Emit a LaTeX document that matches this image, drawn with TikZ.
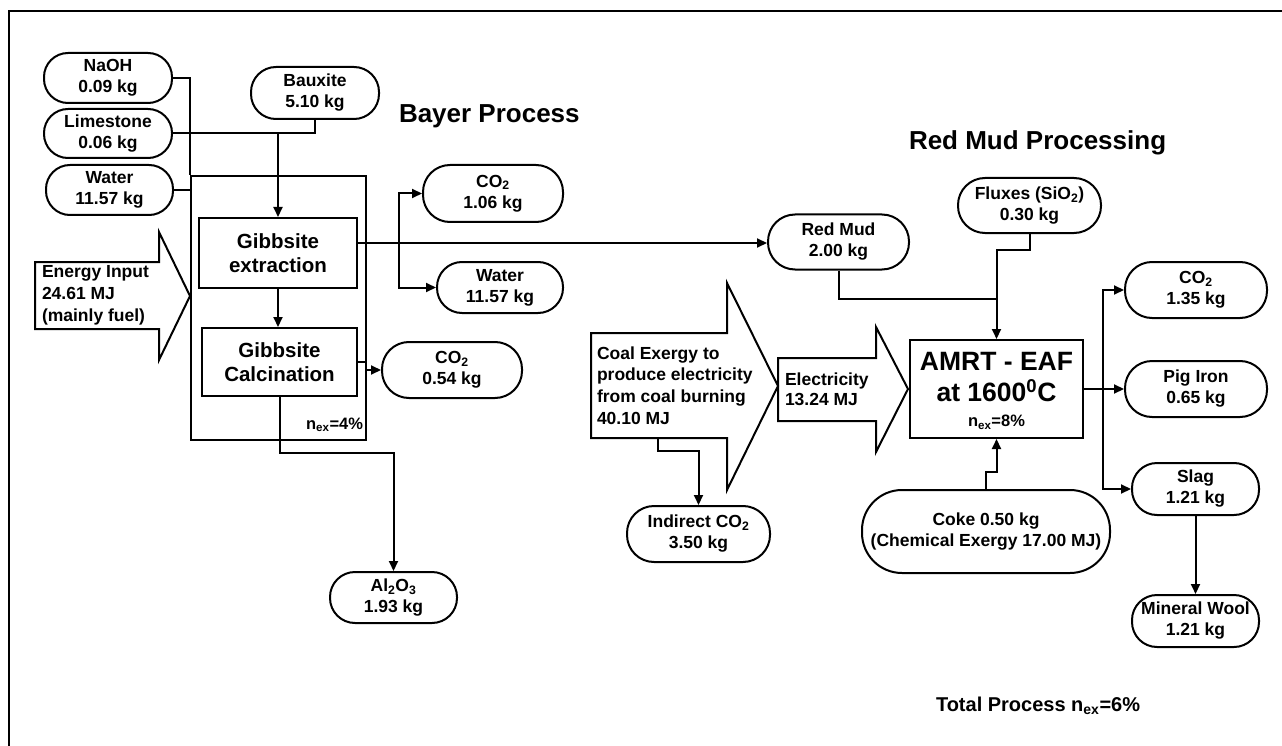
\documentclass[tikz,border=0pt]{standalone}
\usepackage{fontspec}
\setmainfont{Liberation Sans}
\usetikzlibrary{arrows.meta}
\begin{document}
\begin{tikzpicture}[x=1pt,y=-1pt,line width=2pt,
  pill/.style n args={3}{draw,rectangle,rounded corners=#3pt,
    minimum width=#1pt,minimum height=#2pt,inner sep=0pt,align=center,
    font=\bfseries\fontsize{17.5}{21}\selectfont},
  proc/.style n args={2}{draw,rectangle,minimum width=#1pt,
    minimum height=#2pt,inner sep=0pt,align=center,
    font=\bfseries\fontsize{20.5}{24}\selectfont},
  frame/.style={draw,rectangle,inner sep=0pt},
  lbl/.style={inner sep=0pt,align=left,font=\bfseries\fontsize{17.5}{21.7}\selectfont},
  eff/.style={inner sep=0pt,font=\bfseries\fontsize{16.5}{19}\selectfont},
  title/.style={inner sep=0pt,font=\bfseries\fontsize{26}{31}\selectfont},
  arr/.style={-{Triangle[length=10pt,width=9pt]}}]
\useasboundingbox (0,0) rectangle (1282,746);
% page frame
\draw[line width=2.5pt] (9,746) -- (9,11) -- (1282,11);

% ---------- Bayer process ----------
\node[title,anchor=base west] (bayertitle) at (398,123) {Bayer Process};
\node[pill={128}{50}{24}] (naoh) at (108,78) {NaOH\\0.09 kg};
\node[pill={128}{49}{24}] (lime) at (108,133.5) {Limestone\\0.06 kg};
\node[pill={127}{50}{24}] (waterin) at (109.5,190) {Water\\11.57 kg};
\node[pill={128}{52}{25}] (baux) at (315,93) {Bauxite\\5.10 kg};
\node[frame,minimum width=175pt,minimum height=264pt] (bayer) at (278.5,308) {};
\node[proc={158}{70}] (ext) at (278,253) {Gibbsite\\extraction};
\node[proc={155}{68}] (calc) at (279.5,362) {Gibbsite\\Calcination};
\node[eff,anchor=east] (bayereff) at (364,425) {n\textsubscript{ex}=4\%};
\node[pill={140}{57}{27}] (co2a) at (493,193.5) {CO\textsubscript{2}\\1.06 kg};
\node[pill={126}{51}{25}] (waterout) at (500,287.5) {Water\\11.57 kg};
\node[pill={140}{56}{27}] (co2b) at (452,370) {CO\textsubscript{2}\\0.54 kg};
\node[pill={127}{51}{25}] (alo) at (393.5,597.5) {Al\textsubscript{2}O\textsubscript{3}\\1.93 kg};

% energy input arrow
\draw (35,262) -- (159,262) -- (159,232) -- (190,296) -- (159,360) -- (159,329) -- (35,329) -- cycle;
\node[lbl,anchor=west,font=\bfseries\fontsize{17.5}{22}\selectfont] (energy) at (41,295) {Energy Input\\24.61 MJ\\(mainly fuel)};

% ---------- Red mud processing ----------
\node[title,anchor=base west] (rmtitle) at (908,150) {Red Mud Processing};
\node[pill={141}{55}{27}] (redmud) at (838.5,242) {Red Mud\\2.00 kg};
\node[pill={143}{55}{27}] (flux) at (1029.5,205.5) {Fluxes (SiO\textsubscript{2})\\0.30 kg};
\node[pill={143}{56}{27}] (indco2) at (698.5,534) {Indirect CO\textsubscript{2}\\3.50 kg};
\node[pill={248}{83}{40}] (coke) at (986,531.5) {Coke 0.50 kg\\(Chemical Exergy 17.00 MJ)};
\node[frame,minimum width=173pt,minimum height=98pt] (amrt) at (996.5,389) {};
\node[inner sep=0pt,align=center,font=\bfseries\fontsize{26.5}{31}\selectfont] (amrtname) at (996.5,377.5) {AMRT - EAF\\at 1600\textsuperscript{0}C};
\node[eff] (amrteff) at (996.5,422) {n\textsubscript{ex}=8\%};
\node[pill={142}{56}{27}] (co2c) at (1196,290) {CO\textsubscript{2}\\1.35 kg};
\node[pill={142}{56}{27}] (pig) at (1196,389) {Pig Iron\\0.65 kg};
\node[pill={127}{52}{25}] (slag) at (1195.5,489) {Slag\\1.21 kg};
\node[pill={127}{52}{25}] (wool) at (1195.5,621) {Mineral Wool\\1.21 kg};

% coal and electricity arrows
\draw (591,333) -- (727,333) -- (727,283) -- (778,386) -- (727,490) -- (727,438) -- (591,438) -- cycle;
\node[lbl,anchor=west] (coal) at (596,385.5) {Coal Exergy to\\produce electricity\\from coal burning\\40.10 MJ};
\coordinate (coalout) at (658,438);
\draw (778,358) -- (876,358) -- (876,327) -- (908,389) -- (876,452) -- (876,421) -- (778,421) -- cycle;
\node[lbl,anchor=west,font=\bfseries\fontsize{17.5}{20}\selectfont] (elec) at (784,389) {Electricity\\13.24 MJ};

% Bayer connectors
\draw (naoh.east) -| (bayer.north west);
\draw (waterin.east) -- (waterin.east -| bayer.west);
\draw (lime.east) -| (baux.south);
\draw[arr] (lime.east -| ext.north) -- (ext.north);
\draw[arr] (ext.south) -- (ext.south |- calc.north);
\draw[arr] ([yshift=10pt]ext.east) -- ([yshift=10pt]ext.east -| redmud.west);
\coordinate (split) at (399,243);
\draw[arr] (split) |- (co2a.west);
\draw[arr] (split) |- (waterout.west);
\draw[arr] (calc.east) -- ++(8,0) |- (co2b.west);
\draw[arr] (calc.south) -- ++(0,56) -| (alo.north);

% red mud connectors
\draw[arr] (coalout) -- ++(0,13) -| (indco2.north);
\draw (redmud.south) |- (amrt.north |- 0,299);
\draw[arr] (flux.south) -- ++(0,16) -| (amrt.north);
\draw[arr] (coke.north) -- ++(0,-17) -| (amrt.south);
\draw[arr] (amrt.east) -- (pig.west);
\coordinate (split2) at (1103,389);
\draw[arr] (split2) |- (co2c.west);
\draw[arr] (split2) |- (slag.west);
\draw[arr] (slag.south) -- (wool.north);

\node[inner sep=0pt,anchor=base west,font=\bfseries\fontsize{20}{24}\selectfont] (total) at (935,711) {Total Process n\textsubscript{ex}=6\%};
\end{tikzpicture}
\end{document}
